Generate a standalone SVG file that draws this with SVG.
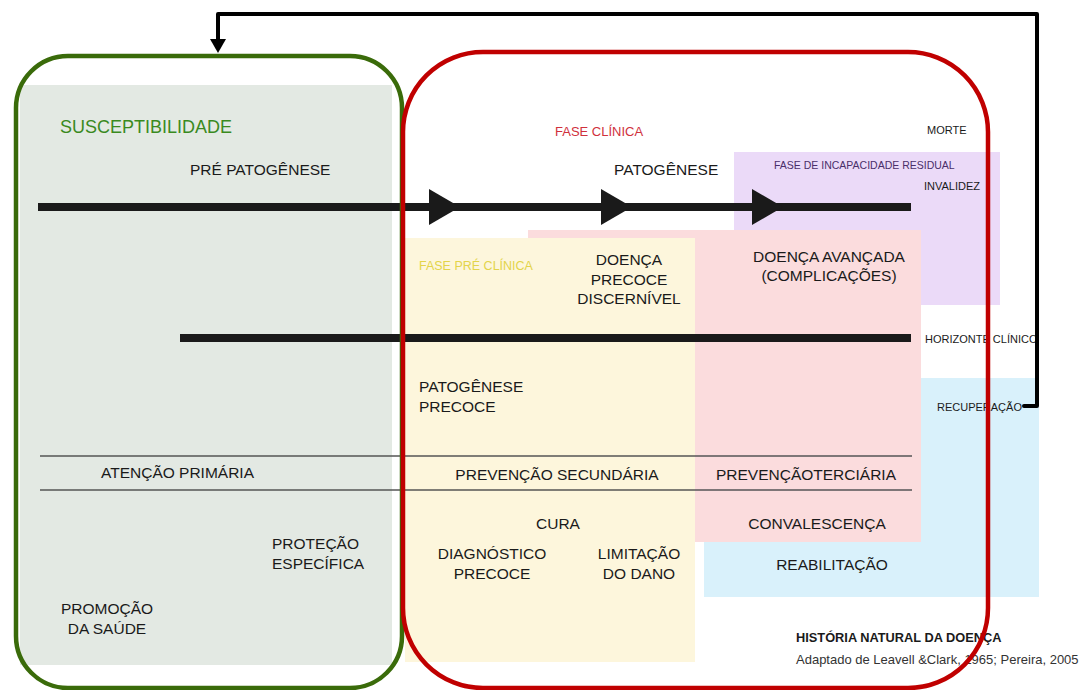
<svg xmlns="http://www.w3.org/2000/svg" width="1085" height="690" viewBox="0 0 1085 690">
<defs>
<style>
text{font-family:"Liberation Sans",Arial,sans-serif;fill:#1a1a1a}
.m{font-size:15.5px}
.s{font-size:11px}
.c{text-anchor:middle}
.axis{stroke:#1a1a1a;stroke-width:8;fill:none}
.thin{stroke:#555;stroke-width:1.3}
.tri{fill:#1a1a1a}
</style>
</defs>
<rect width="1085" height="690" fill="#fff"/>
<g id="panels">
<rect x="20" y="85" width="372" height="580" fill="#e3e9e3"/>
<rect x="734" y="152" width="266" height="153" fill="#ebdaf8"/>
<rect x="704" y="378" width="335" height="219" fill="#d9f1fb"/>
<rect x="528" y="230" width="393" height="312" fill="#fbdcdd"/>
<rect x="405" y="238" width="290" height="424" fill="#fdf6dc"/>
</g>
<g id="axes">
<line class="axis" x1="38" y1="207" x2="911" y2="207"/>
<polygon class="tri" points="429,189 460,207 429,225"/>
<polygon class="tri" points="601,189 632,207 601,225"/>
<polygon class="tri" points="752,189 783,207 752,225"/>
<line class="axis" x1="180" y1="338" x2="911" y2="338"/>
<line class="thin" x1="40" y1="456" x2="912" y2="456"/>
<line class="thin" x1="40" y1="490" x2="912" y2="490"/>
</g>
<g id="texts">
<text x="60" y="133" style="font-size:18px;fill:#3a8a1e">SUSCEPTIBILIDADE</text>
<text class="m" x="190" y="175">PRÉ PATOGÊNESE</text>
<text x="555" y="136" style="font-size:13px;fill:#d0303c">FASE CLÍNICA</text>
<text class="m" x="614" y="175">PATOGÊNESE</text>
<text class="s" x="927" y="134">MORTE</text>
<text x="774" y="169" style="font-size:10.5px;fill:#4a2f6a">FASE  DE INCAPACIDADE RESIDUAL</text>
<text class="s" x="924" y="190">INVALIDEZ</text>
<text x="419" y="270" style="font-size:12.5px;fill:#e3d44a">FASE PRÉ CLÍNICA</text>
<text class="m c" x="629" y="265">DOENÇA</text>
<text class="m c" x="629" y="285">PRECOCE</text>
<text class="m c" x="629" y="304">DISCERNÍVEL</text>
<text class="m c" x="829" y="262">DOENÇA AVANÇADA</text>
<text class="m c" x="829" y="281">(COMPLICAÇÕES)</text>
<text class="s" x="925" y="343">HORIZONTE CLÍNICO</text>
<text class="m" x="419" y="392">PATOGÊNESE</text>
<text class="m" x="419" y="412">PRECOCE</text>
<text class="s" x="937" y="411">RECUPERAÇÃO</text>
<text class="m" x="101" y="478">ATENÇÃO  PRIMÁRIA</text>
<text class="m c" x="557" y="480">PREVENÇÃO SECUNDÁRIA</text>
<text class="m c" x="806" y="480">PREVENÇÃOTERCIÁRIA</text>
<text class="m c" x="558" y="529">CURA</text>
<text class="m c" x="817" y="529">CONVALESCENÇA</text>
<text class="m" x="272" y="549">PROTEÇÃO</text>
<text class="m" x="272" y="569">ESPECÍFICA</text>
<text class="m c" x="492" y="559">DIAGNÓSTICO</text>
<text class="m c" x="492" y="579">PRECOCE</text>
<text class="m c" x="639" y="559">LIMITAÇÃO</text>
<text class="m c" x="639" y="579">DO DANO</text>
<text class="m c" x="832" y="570">REABILITAÇÃO</text>
<text class="m c" x="107" y="614">PROMOÇÃO</text>
<text class="m c" x="107" y="634">DA SAÚDE</text>
<text x="796" y="642" style="font-size:12.8px;font-weight:bold">HISTÓRIA NATURAL DA DOENÇA</text>
<text x="796" y="664" style="font-size:13px;fill:#333">Adaptado de Leavell &amp;Clark, 1965; Pereira, 2005</text>
</g>
<g id="node-prepatogenese">
<rect x="16" y="56" width="386" height="632" rx="52" fill="none" stroke="#3a6b0a" stroke-width="4.5"/>
</g>
<g id="node-patogenese">
<rect x="403" y="52" width="585" height="636" rx="80" fill="none" stroke="#c00000" stroke-width="4.5"/>
</g>
<g id="connectors">
<path d="M1024,406 H1037 V14 H218 V40" fill="none" stroke="#000" stroke-width="4" stroke-linecap="round" stroke-linejoin="round"/>
<polygon points="210,39 226,39 218,53" fill="#000"/>
</g>
</svg>
